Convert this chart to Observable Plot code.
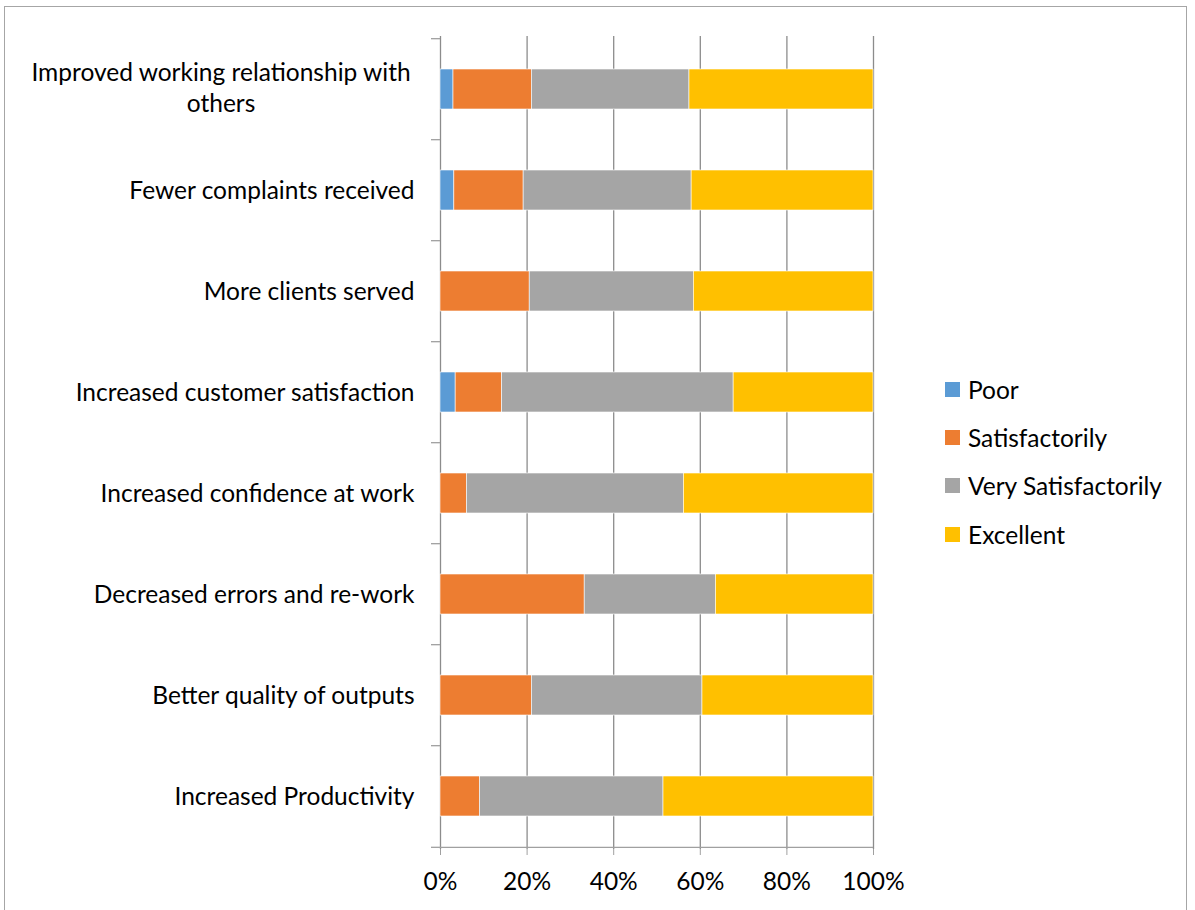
<!DOCTYPE html>
<html>
<head>
<meta charset="utf-8">
<script src="https://cdn.jsdelivr.net/npm/d3@7"></script>
<script src="https://cdn.jsdelivr.net/npm/@observablehq/plot@0.6"></script>
<style>
  html, body { margin: 0; padding: 0; background: #fff; }
  #wrap { position: relative; width: 1195px; height: 910px; overflow: hidden; font-family: Lato, "Open Sans", sans-serif; }
  #border { position: absolute; left: 4px; top: 6px; width: 1183px; height: 1000px; border: 1px solid #a6a6a6; box-sizing: border-box; }
  #chart { position: absolute; left: 0; top: 0; }
  #legend { position: absolute; left: 945px; top: 365px; }
  .item { display: flex; align-items: center; height: 48.3px; font-size: 24.5px; color: #000; }
  .sw { width: 15px; height: 15px; margin-right: 8px; }
</style>
</head>
<body>
<div id="wrap">
  <div id="border"></div>
  <div id="chart"></div>
  <div id="legend"></div>
</div>
<script>
// Categories, top to bottom
const categories = [
  "Improved working relationship with others",
  "Fewer complaints received",
  "More clients served",
  "Increased customer satisfaction",
  "Increased confidence at work",
  "Decreased errors and re-work",
  "Better quality of outputs",
  "Increased Productivity"
];
const wrappedLabels = {
  "Improved working relationship with others": "Improved working relationship with\nothers"
};
const ratings = ["Poor", "Satisfactorily", "Very Satisfactorily", "Excellent"];
const colors = ["#5B9BD5", "#ED7D31", "#A5A5A5", "#FFC000"];
// percentages per category (same order as categories)
const poor              = [3.0, 3.2, 0,    3.5,  0,    0,    0,    0];
const satisfactorily    = [18.1, 16.0, 20.6, 10.7, 6.1, 33.3, 21.1, 9.1];
const verySatisfactorily= [36.4, 38.8, 37.9, 53.5, 50.1, 30.3, 39.4, 42.4];
const excellent         = [42.5, 42.0, 41.5, 32.3, 43.8, 36.4, 39.5, 48.5];
const xTicks = [0, 0.2, 0.4, 0.6, 0.8, 1.0];

const series = [poor, satisfactorily, verySatisfactorily, excellent];
const data = [];
categories.forEach((c, i) => {
  ratings.forEach((r, j) => data.push({category: c, rating: r, value: series[j][i]}));
});

const W = 1195, H = 910;
const mt = 36, mb = 61, ml = 440, mr = 322;
const band = (H - mt - mb) / categories.length;
const fs = 24.5;

const singles = categories.filter(c => !wrappedLabels[c]);
const wrapped = categories.filter(c => wrappedLabels[c]);

const plot = Plot.plot({
  width: W, height: H,
  marginTop: mt, marginBottom: mb, marginLeft: ml, marginRight: mr,
  style: {fontFamily: "Lato, 'Open Sans', sans-serif", fontSize: fs + "px", color: "#000", background: "transparent"},
  x: {domain: [0, 1], ticks: xTicks, tickFormat: d3.format(".0%"), label: null},
  y: {domain: categories, paddingInner: 0.6, paddingOuter: 0.3, label: null, axis: null},
  color: {domain: ratings, range: colors},
  marks: [
    Plot.gridX(xTicks, {stroke: "#8c8c8c", strokeOpacity: 1, strokeWidth: 1.3}),
    Plot.barX(data, Plot.stackX({
      x: "value", y: "category", fill: "rating", offset: "normalize", order: ratings,
      stroke: "#ffffff", strokeWidth: 0.6
    })),
    Plot.axisX(xTicks, {anchor: "bottom", tickSize: 6, tickPadding: 17, stroke: "#a0a0a0", fontSize: fs, fill: "#000", tickFormat: d3.format(".0%"), label: null}),
    Plot.ruleY([categories[categories.length - 1]], {y: d => d, x1: 0, x2: 1, dy: band / 2, stroke: "#a0a0a0", strokeWidth: 1.3}),
    Plot.ruleY(categories, {y: d => d, x1: 0, x2: 0, insetLeft: -9, dy: -band / 2, stroke: "#a0a0a0", strokeWidth: 1.3}),
    Plot.ruleY([categories[categories.length - 1]], {y: d => d, x1: 0, x2: 0, insetLeft: -9, dy: band / 2, stroke: "#a0a0a0", strokeWidth: 1.3}),
    Plot.text(singles, {x: 0, y: d => d, text: d => d, textAnchor: "end", dx: -26, dy: 1, fontSize: fs, fill: "#000"}),
    Plot.text(wrapped, {x: 0, y: d => d, text: d => wrappedLabels[d], textAnchor: "middle", dx: -219.5, dy: -3, fontSize: fs, lineHeight: 1.25, fill: "#000"})
  ]
});
document.getElementById("chart").appendChild(plot);

const legend = document.getElementById("legend");
ratings.forEach((r, i) => {
  const it = document.createElement("div");
  it.className = "item";
  it.innerHTML = `<div class="sw" style="background:${colors[i]}"></div><span>${r}</span>`;
  legend.appendChild(it);
});
</script>
</body>
</html>
